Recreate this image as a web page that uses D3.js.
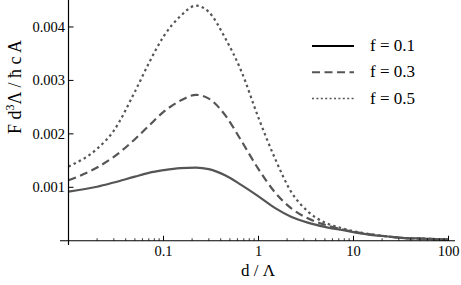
<!DOCTYPE html>
<html>
<head>
<meta charset="utf-8">
<script src="https://cdn.jsdelivr.net/npm/d3@7"></script>
<style>
  body { margin: 0; background: #fff; }
</style>
</head>
<body>
<svg id="chart" width="461" height="285"></svg>
<script>
// distances d / Lambda (shared by all three curves)
var dValues = [0.01, 0.02, 0.03, 0.05, 0.07, 0.1, 0.15, 0.22, 0.3, 0.45, 0.65, 1,
               1.5, 2.2, 3.3, 5, 7, 10, 15, 23, 35, 52, 100];

// F d^3 Lambda / hbar c A for each f
var f01 = [0.00092, 0.00101, 0.00109, 0.00120, 0.00127, 0.00132, 0.00136, 0.00137, 0.00134,
           0.00122, 0.00105, 0.00083, 0.00061, 0.00045, 0.00034, 0.00026, 0.00021, 0.00016,
           0.00011, 0.00008, 0.00005, 0.00004, 0.00002];
var f03 = [0.00113, 0.00137, 0.00157, 0.00190, 0.00215, 0.00241, 0.00262, 0.00273, 0.00266,
           0.00234, 0.00189, 0.00134, 0.00090, 0.00061, 0.00042, 0.00030, 0.00023, 0.00017,
           0.00012, 0.00008, 0.00005, 0.00004, 0.00002];
var f05 = [0.00139, 0.00172, 0.00206, 0.00279, 0.00332, 0.00382, 0.00420, 0.00440, 0.00428,
           0.00378, 0.00320, 0.00230, 0.00153, 0.00092, 0.00055, 0.00034, 0.00025, 0.00018,
           0.00012, 0.00008, 0.00005, 0.00004, 0.00002];

var seriesNames = ["f = 0.1", "f = 0.3", "f = 0.5"];
var seriesValues = [f01, f03, f05];
var seriesDash = [null, "8,4.5", "2.5,3.2"];

var xTicks = [0.1, 1, 10, 100];
var xTickLabels = ["0.1", "1", "10", "100"];
var yTicks = [0.001, 0.002, 0.003, 0.004];
var yTickLabels = ["0.001", "0.002", "0.003", "0.004"];

var FONT = "'Liberation Serif', 'Times New Roman', serif";
var svg = d3.select("#chart");

var x = d3.scaleLog().domain([0.01, 100]).range([68.5, 448.5]);
var y = d3.scaleLinear().domain([0, 0.0045]).range([240.75, 0.25]);

var curveColor = "#555";

// curves
var line = d3.line()
    .x(function (d) { return x(d[0]); })
    .y(function (d) { return y(d[1]); })
    .curve(d3.curveMonotoneX);

seriesValues.forEach(function (vals, i) {
    svg.append("path")
        .datum(dValues.map(function (d, j) { return [d, vals[j]]; }))
        .attr("d", line)
        .attr("fill", "none")
        .attr("stroke", curveColor)
        .attr("stroke-width", 2.2)
        .attr("stroke-dasharray", seriesDash[i]);
});

// axes lines
var x0 = x(0.01), y0 = y(0);
svg.append("line")
    .attr("x1", 60).attr("x2", 455)
    .attr("y1", y0).attr("y2", y0)
    .attr("stroke", "#000").attr("stroke-width", 1.2);
svg.append("line")
    .attr("x1", x0).attr("x2", x0)
    .attr("y1", 0).attr("y2", 245)
    .attr("stroke", "#000").attr("stroke-width", 1.2);

// x minor ticks
var minor = [];
[0.01, 0.1, 1, 10].forEach(function (dec) {
    for (var k = 2; k <= 9; k++) minor.push(dec * k);
});
svg.selectAll(".xminor")
    .data(minor)
    .enter().append("line")
    .attr("x1", d => x(d)).attr("x2", d => x(d))
    .attr("y1", y0).attr("y2", y0 - 2.5)
    .attr("stroke", "#000").attr("stroke-width", 0.8);

// x major ticks + labels
svg.selectAll(".xmajor")
    .data(xTicks)
    .enter().append("line")
    .attr("x1", d => x(d)).attr("x2", d => x(d))
    .attr("y1", y0).attr("y2", y0 - 5)
    .attr("stroke", "#000").attr("stroke-width", 1);
svg.selectAll(".xlab")
    .data(xTicks)
    .enter().append("text")
    .attr("x", d => x(d))
    .attr("y", 256)
    .attr("text-anchor", "middle")
    .style("font-family", FONT)
    .style("font-size", "14.5px")
    .text(function (d, i) { return xTickLabels[i]; });

// y ticks + labels
svg.selectAll(".ymajor")
    .data(yTicks)
    .enter().append("line")
    .attr("x1", x0).attr("x2", x0 + 5)
    .attr("y1", d => y(d)).attr("y2", d => y(d))
    .attr("stroke", "#000").attr("stroke-width", 1);
svg.selectAll(".ylab")
    .data(yTicks)
    .enter().append("text")
    .attr("x", 65)
    .attr("y", d => y(d) + 5)
    .attr("text-anchor", "end")
    .style("font-family", FONT)
    .style("font-size", "14.5px")
    .text(function (d, i) { return yTickLabels[i]; });

// axis titles
svg.append("text")
    .attr("x", 258)
    .attr("y", 276)
    .attr("text-anchor", "middle")
    .style("font-family", FONT)
    .style("font-size", "17px")
    .text("d / \u039B");

var yTitle = svg.append("text")
    .attr("transform", "translate(21,87) rotate(-90)")
    .attr("text-anchor", "middle")
    .style("font-family", FONT)
    .style("font-size", "18px");
yTitle.append("tspan").text("F d");
yTitle.append("tspan").attr("dy", -7).style("font-size", "12px").text("3");
yTitle.append("tspan").attr("dy", 7).text("\u039B / \u0127 c A");

// legend
var legend = svg.append("g").attr("transform", "translate(312,46)");
seriesNames.forEach(function (name, i) {
    var g = legend.append("g").attr("transform", "translate(0," + (i * 26.3) + ")");
    g.append("line")
        .attr("x1", 0).attr("x2", 42)
        .attr("y1", 0).attr("y2", 0)
        .attr("stroke", i === 0 ? "#000" : curveColor)
        .attr("stroke-width", i === 2 ? 1.5 : 2)
        .attr("stroke-dasharray", i === 2 ? "2,2.4" : seriesDash[i]);
    g.append("text")
        .attr("x", 58)
        .attr("y", 5)
        .style("font-family", FONT)
        .style("font-size", "17px")
        .text(name);
});
</script>
</body>
</html>
